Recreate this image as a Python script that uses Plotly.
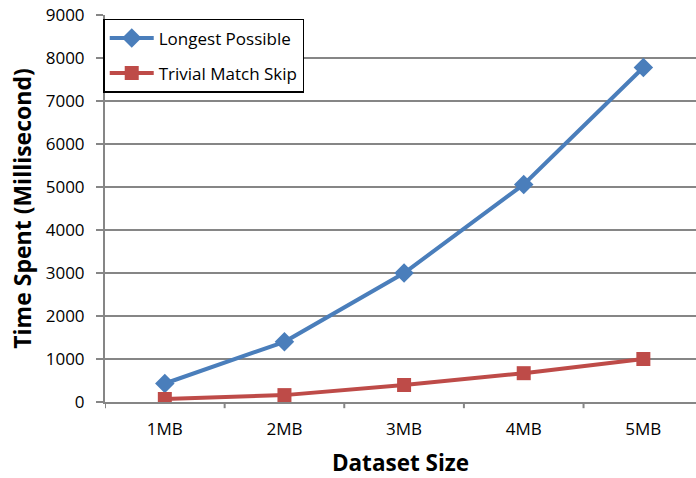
import plotly.graph_objects as go

# Dataset sizes and measured running times (ms)
sizes = ["1MB", "2MB", "3MB", "4MB", "5MB"]
longest_possible = [430, 1400, 3000, 5060, 7780]
trivial_match_skip = [70, 160, 395, 670, 1000]
y_ticks = [0, 1000, 2000, 3000, 4000, 5000, 6000, 7000, 8000, 9000]

BLUE = "#4A7EBB"
RED = "#BE4B48"
GRID = "#868686"
FONT = "Open Sans, DejaVu Sans, sans-serif"

fig = go.Figure()
fig.add_trace(go.Scatter(
    x=sizes, y=longest_possible, name="Longest Possible",
    legendgroup="a",
    mode="lines+markers",
    line=dict(color=BLUE, width=4),
    marker=dict(symbol="diamond", size=15, color=BLUE),
))
fig.add_trace(go.Scatter(
    x=sizes, y=trivial_match_skip, name="Trivial Match Skip",
    legendgroup="b",
    mode="lines+markers",
    line=dict(color=RED, width=4),
    marker=dict(symbol="square", size=14, color=RED),
))

fig.update_layout(
    width=696, height=478,
    margin=dict(l=105, r=0, t=15, b=76),
    plot_bgcolor="white", paper_bgcolor="white",
    font=dict(family=FONT, size=17, color="black"),
    showlegend=True,
    legend=dict(
        x=-0.003, y=0.99, xanchor="left", yanchor="top",
        bgcolor="white", bordercolor="black", borderwidth=1.5,
        font=dict(size=17, family=FONT),
        traceorder="grouped", tracegroupgap=10,
        itemwidth=44,
    ),
)

fig.update_xaxes(
    type="category", range=[-0.5, 4.44],
    showgrid=False,
    showline=True, linecolor=GRID, linewidth=2,
    ticks="", tickfont=dict(size=17, family=FONT),
    ticklabelstandoff=11,
    title=dict(text="<b>Dataset Size</b>", font=dict(size=22.5, family=FONT), standoff=16),
)
# Category boundary tick marks below the x axis
for b in [-0.5, 0.5, 1.5, 2.5, 3.5]:
    fig.add_shape(type="line", xref="x", yref="paper",
                  x0=b, x1=b, y0=0, y1=-0.016,
                  line=dict(color=GRID, width=2))

fig.update_yaxes(
    range=[0, 9000], tickvals=y_ticks,
    showgrid=True, gridcolor=GRID, gridwidth=2,
    showline=True, linecolor=GRID, linewidth=2,
    ticks="outside", ticklen=7, tickcolor=GRID, tickwidth=2,
    zeroline=False,
    tickfont=dict(size=17, family=FONT),
    ticklabelstandoff=8,
    title=dict(text="<b>Time Spent (Millisecond)</b>", font=dict(size=23, family=FONT), standoff=8),
)

fig.write_html("out.html")
